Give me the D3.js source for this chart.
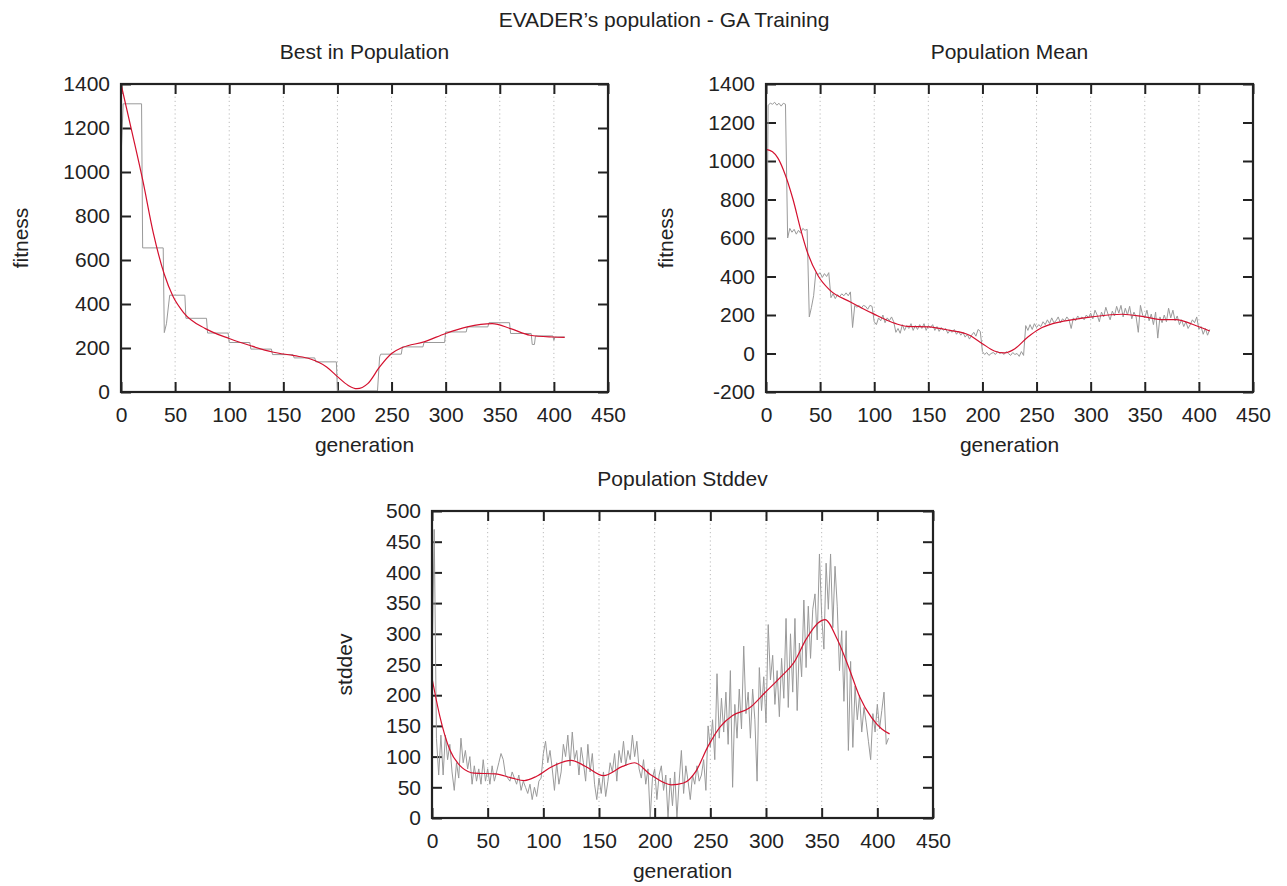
<!DOCTYPE html>
<html>
<head>
<meta charset="utf-8">
<script src="https://cdn.jsdelivr.net/npm/d3@7"></script>
<style>
  body { margin: 0; background: #fff; }
  text { font-family: "Liberation Sans", Arial, Helvetica, sans-serif; fill: #222; }
</style>
</head>
<body>
<div id="chart"></div>
<script>
// generations axis shared by all three panels
var genTicks = [0, 50, 100, 150, 200, 250, 300, 350, 400, 450];

// best in population (raw, change points of the stepped series)
var bestGen = [0, 2, 19, 20, 39, 40, 42, 45, 59, 60, 79, 80, 99, 100, 119, 120, 139, 140, 159, 160,
  179, 180, 199, 200, 237, 239, 240, 259, 260, 279, 280, 299, 300, 319, 320, 339, 340, 359, 360, 379,
  380, 382, 383, 399, 400, 401, 410];
var bestVal = [1060, 1310, 1310, 655, 655, 270, 310, 440, 440, 335, 335, 268, 268, 225, 225, 195, 195, 170, 170, 155,
  155, 137, 137, 5, 5, 160, 172, 172, 205, 205, 225, 225, 273, 273, 296, 296, 315, 315, 266, 266,
  216, 216, 255, 255, 235, 250, 250];
// best in population (smoothed)
var bestFitGen = [0, 10, 20, 30, 40, 48, 58, 78, 100, 120, 140, 160, 175, 190, 200, 210, 218, 228, 239, 250,
  260, 280, 300, 320, 343, 360, 378, 399, 410];
var bestFitVal = [1400, 1185, 965, 720, 535, 435, 360, 288, 243, 210, 182, 165, 150, 114, 70, 30, 15, 38, 114, 175,
  202, 228, 266, 296, 311, 288, 258, 250, 248];

// population mean (raw, every 2nd generation)
var meanVal = [-30, 1290, 1300, 1295, 1305, 1290, 1300, 1285, 1300, 1295,
  600, 650, 630, 645, 620, 640, 625, 650, 640, 645,
  190, 240, 300, 420, 410, 420, 395, 415, 400, 420,
  290, 310, 285, 305, 295, 310, 300, 315, 300, 320,
  135, 250, 240, 250, 235, 250, 245, 230, 250, 245,
  165, 150, 185, 170, 200, 160, 185, 170, 190, 165,
  110, 130, 105, 150, 120, 145, 130, 155, 120, 145,
  125, 150, 130, 155, 120, 145, 135, 150, 120, 140,
  115, 135, 120, 130, 105, 120, 110, 125, 100, 115,
  95, 110, 85, 100, 75, 95, 110, 90, 125, 115,
  10, -5, 5, -10, 0, 5, -5, 10, 0, 5,
  -5, 10, 0, -10, 5, -5, 0, -15, 10, -10,
  145, 120, 150, 125, 155, 135, 150, 140, 165, 150,
  175, 155, 185, 160, 170, 190, 160, 180, 170, 190,
  175, 130, 185, 170, 195, 180, 190, 175, 200, 185,
  210, 180, 225, 200, 165, 215, 190, 240, 205, 175,
  220, 195, 245, 210, 250, 190, 235, 200, 245, 180,
  215, 190, 110, 250, 200, 185, 225, 170, 205, 150,
  215, 80, 190, 160, 200, 165, 235, 185, 225, 170,
  195, 150, 175, 140, 165, 130, 150, 175, 160, 190,
  125, 140, 100, 130, 95, 125];
// population mean (smoothed)
var meanFitGen = [0, 6, 11, 16, 25, 32, 38, 48, 59, 78, 99, 120, 131, 150, 169, 188, 200, 211, 220, 230,
  242, 253, 265, 284, 301, 329, 350, 367, 379, 394, 410];
var meanFitVal = [1060, 1048, 1015, 955, 800, 645, 530, 405, 329, 268, 207, 155, 141, 138, 121, 95, 51, 13, 3, 25,
  86, 129, 155, 176, 190, 204, 190, 176, 176, 152, 117];

// population stddev (raw, every 2nd generation)
var sdVal = [240, 470, 130, 70, 135, 70, 135, 95, 120, 75,
  45, 90, 65, 130, 90, 110, 80, 100, 55, 85,
  60, 80, 55, 95, 60, 80, 55, 85, 60, 75,
  90, 105, 95, 70, 65, 60, 75, 65, 55, 70,
  45, 60, 50, 40, 55, 30, 50, 35, 60, 65,
  105, 125, 90, 110, 80, 45, 90, 55, 75, 120,
  100, 135, 85, 140, 95, 110, 70, 115, 90, 60,
  120, 75, 105, 55, 30, 65, 40, 75, 35, 60,
  90, 75, 105, 60, 110, 90, 125, 85, 110, 95,
  135, 100, 125, 80, 65, 95, 55, 80, 0, 65,
  80, 30, 70, 85, 45, 70, 0, 65, 20, 75,
  0, 60, 110, 40, 85, 60, 30, 70, 55, 85,
  60, 70, 95, 45, 150, 115, 160, 95, 235, 130,
  195, 140, 205, 120, 240, 50, 185, 130, 210, 145,
  280, 170, 205, 130, 210, 160, 60, 245, 175, 230,
  155, 315, 225, 265, 185, 240, 165, 260, 195, 325,
  180, 300, 205, 325, 175, 285, 230, 355, 245, 345,
  260, 340, 365, 290, 430, 330, 275, 415, 340, 430,
  310, 410, 345, 240, 305, 190, 305, 110, 255, 115,
  215, 160, 200, 140, 180, 155, 125, 95, 170, 140,
  185, 145, 175, 205, 120, 130];
// population stddev (smoothed)
var sdFitGen = [0, 7, 16, 27, 38, 57, 72, 83, 94, 108, 125, 138, 154, 171, 182, 196, 215, 226, 237, 248,
  259, 270, 285, 299, 314, 325, 336, 347, 353, 364, 375, 384, 395, 404, 411];
var sdFitVal = [228, 166, 111, 82, 73, 72, 65, 61, 68, 84, 94, 84, 69, 84, 90, 71, 54, 57, 76, 117,
  149, 167, 179, 204, 231, 253, 291, 318, 323, 291, 242, 198, 163, 145, 137];

var rawGen = d3.range(0, 411, 2);

var svg = d3.select("#chart").append("svg")
  .attr("width", 1287)
  .attr("height", 886);

svg.append("rect").attr("width", 1287).attr("height", 886).attr("fill", "#fff");

svg.append("text")
  .attr("x", 664).attr("y", 27)
  .attr("text-anchor", "middle")
  .style("font-size", "21px")
  .text("EVADER\u2019s population - GA Training");

function drawPanel(p) {
  var width = p.w, height = p.h;
  var g = svg.append("g").attr("transform", `translate(${p.left}, ${p.top})`);

  var xScale = d3.scaleLinear().domain([0, 450]).range([0, width]);
  var yScale = d3.scaleLinear().domain(p.yDomain).range([height, 0]);

  // dotted vertical grid
  g.selectAll(".grid")
    .data(genTicks.filter(d => d > 0 && d < 450))
    .enter().append("line")
    .attr("x1", d => xScale(d)).attr("x2", d => xScale(d))
    .attr("y1", 0).attr("y2", height)
    .attr("stroke", "#bbb")
    .attr("stroke-width", 1)
    .attr("stroke-dasharray", "1.2,3");

  // axes, ticks pointing inward; plain integer labels (no comma, ascii minus)
  var fmt = d => String(d);
  var xAxis = d3.axisBottom(xScale).tickValues(genTicks).tickSize(-10).tickPadding(15).tickFormat(fmt);
  var yAxis = d3.axisLeft(yScale).tickValues(p.yTicks).tickSize(-10).tickPadding(11).tickFormat(fmt);

  var xg = g.append("g").attr("transform", `translate(0,${height})`).call(xAxis);
  var yg = g.append("g").call(yAxis);
  var tg = g.append("g").call(d3.axisTop(xScale).tickValues(genTicks).tickSize(-10).tickFormat(""));
  var rg = g.append("g").attr("transform", `translate(${width},0)`)
    .call(d3.axisRight(yScale).tickValues(p.yTicks).tickSize(-10).tickFormat(""));

  [xg, yg, tg, rg].forEach(function (a) {
    a.select(".domain").remove();
    a.selectAll("line").attr("stroke", "#222").attr("stroke-width", 2);
    a.selectAll("text").style("font-size", "21px").attr("fill", "#222")
      .style("font-family", '"Liberation Sans", Arial, sans-serif');
  });

  // raw series
  var rawLine = d3.line().x(d => xScale(d[0])).y(d => yScale(d[1]));
  g.append("path")
    .datum(p.rawGen.map((d, i) => [d, p.rawVal[i]]))
    .attr("d", rawLine)
    .attr("fill", "none")
    .attr("stroke", "#9a9a9a")
    .attr("stroke-width", 1);

  // smoothed series
  var fitLine = d3.line().curve(d3.curveMonotoneX).x(d => xScale(d[0])).y(d => yScale(d[1]));
  g.append("path")
    .datum(p.fitGen.map((d, i) => [d, p.fitVal[i]]))
    .attr("d", fitLine)
    .attr("fill", "none")
    .attr("stroke", "#d4102e")
    .attr("stroke-width", 1.2);

  // frame
  g.append("rect")
    .attr("width", width).attr("height", height)
    .attr("fill", "none")
    .attr("stroke", "#222")
    .attr("stroke-width", 2.2);

  // titles and labels
  g.append("text")
    .attr("x", width / 2).attr("y", -25)
    .attr("text-anchor", "middle")
    .style("font-size", "21px")
    .text(p.title);

  g.append("text")
    .attr("x", width / 2).attr("y", height + 60)
    .attr("text-anchor", "middle")
    .style("font-size", "21px")
    .text("generation");

  g.append("text")
    .attr("transform", "rotate(-90)")
    .attr("x", -height / 2)
    .attr("y", -p.yLabelGap)
    .attr("text-anchor", "middle")
    .style("font-size", "21px")
    .text(p.yLabel);
}

drawPanel({
  left: 121, top: 84, w: 487, h: 308,
  yDomain: [0, 1400], yTicks: d3.range(0, 1401, 200),
  rawGen: bestGen, rawVal: bestVal, fitGen: bestFitGen, fitVal: bestFitVal,
  title: "Best in Population", yLabel: "fitness", yLabelGap: 93
});

drawPanel({
  left: 766, top: 84, w: 487, h: 308,
  yDomain: [-200, 1400], yTicks: d3.range(-200, 1401, 200),
  rawGen: rawGen, rawVal: meanVal, fitGen: meanFitGen, fitVal: meanFitVal,
  title: "Population Mean", yLabel: "fitness", yLabelGap: 93
});

drawPanel({
  left: 432, top: 511, w: 501, h: 307,
  yDomain: [0, 500], yTicks: d3.range(0, 501, 50),
  rawGen: rawGen, rawVal: sdVal, fitGen: sdFitGen, fitVal: sdFitVal,
  title: "Population Stddev", yLabel: "stddev", yLabelGap: 80
});
</script>
</body>
</html>
